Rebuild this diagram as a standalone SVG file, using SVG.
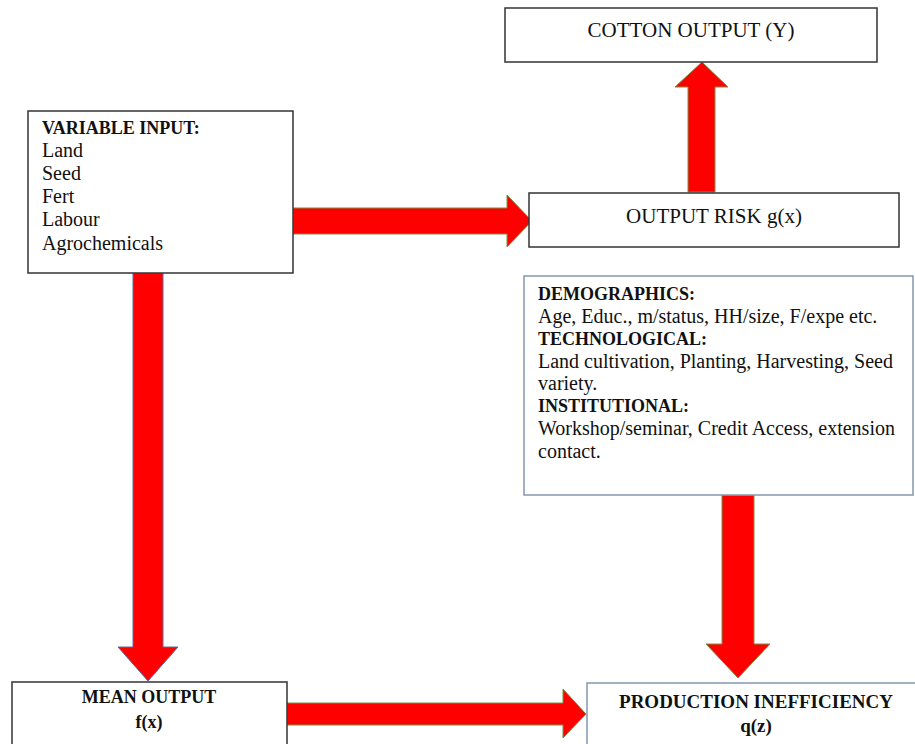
<svg xmlns="http://www.w3.org/2000/svg" width="915" height="744" viewBox="0 0 915 744">
<style>
.box{fill:#fff;stroke:#333;stroke-width:1.5}
.bbox{fill:#fff;stroke:#8497b0;stroke-width:1.5}
.arr{fill:#ff0000;stroke:#7a8f45;stroke-width:1}
.arrb{fill:#ff0000;stroke:#5c6a9a;stroke-width:1}
text{font-family:"Liberation Serif","Times New Roman",serif;fill:#111}
.t20{font-size:20px}
.b18{font-size:18px;font-weight:bold}
.c{text-anchor:middle}
</style>
<rect width="915" height="744" fill="#fff"/>
<g id="connectors">
<polygon class="arr" points="293,208 507,208 507,195 532,221 507,247 507,234 293,234"/>
<polygon class="arr" points="688,192 688,87 675,87 702,62 728,87 715,87 715,192"/>
<polygon class="arrb" points="133,273 163,273 163,647 178,647 148,681 118,647 133,647"/>
<polygon class="arr" points="287,703 563,703 563,689 586,714 563,738 563,725 287,725"/>
<polygon class="arr" points="722,495 754,495 754,644 770,644 738,678 706,644 722,644"/>
</g>
<g id="cotton-output">
<rect class="box" x="505" y="8" width="372" height="54"/>
<text class="c" x="691" y="37" font-size="21">COTTON OUTPUT (Y)</text>
</g>
<g id="variable-input">
<rect class="box" x="28" y="111" width="265" height="162"/>
<text class="b18" x="42" y="134">VARIABLE INPUT:</text>
<text class="t20" x="42" y="157">Land</text>
<text class="t20" x="42" y="180">Seed</text>
<text class="t20" x="42" y="203">Fert</text>
<text class="t20" x="42" y="226">Labour</text>
<text class="t20" x="42" y="250">Agrochemicals</text>
</g>
<g id="output-risk">
<rect class="box" x="529" y="193" width="370" height="54"/>
<text class="c" x="714" y="223" font-size="21">OUTPUT RISK g(x)</text>
</g>
<g id="factors">
<rect class="bbox" x="524" y="276" width="389" height="219"/>
<text class="b18" x="538" y="300">DEMOGRAPHICS:</text>
<text class="t20" x="538" y="323">Age, Educ., m/status, HH/size, F/expe etc.</text>
<text class="b18" x="538" y="345">TECHNOLOGICAL:</text>
<text class="t20" x="538" y="368">Land cultivation, Planting, Harvesting, Seed</text>
<text class="t20" x="538" y="390">variety.</text>
<text class="b18" x="538" y="412">INSTITUTIONAL:</text>
<text class="t20" x="538" y="435">Workshop/seminar, Credit Access, extension</text>
<text class="t20" x="538" y="458">contact.</text>
</g>
<g id="mean-output">
<rect class="box" x="12" y="682" width="275" height="70"/>
<text class="b18 c" x="149" y="703">MEAN OUTPUT</text>
<text class="b18 c" x="149" y="728">f(x)</text>
</g>
<g id="production-inefficiency">
<rect class="bbox" x="587" y="683" width="340" height="70"/>
<text class="c" x="756" y="708" font-size="19" font-weight="bold">PRODUCTION INEFFICIENCY</text>
<text class="c" x="756" y="732" font-size="19" font-weight="bold">q(z)</text>
</g>
</svg>
